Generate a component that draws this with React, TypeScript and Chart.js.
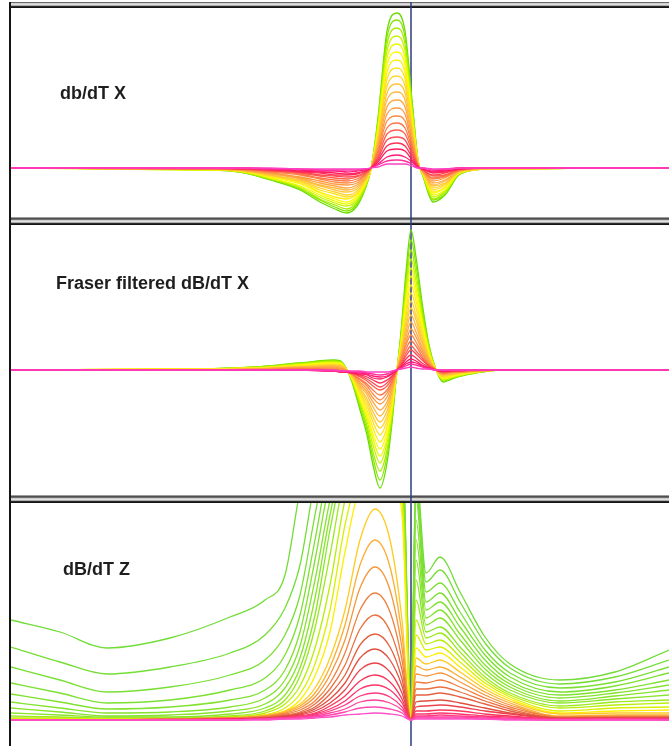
import React, { useEffect, useRef } from 'react';
import { Chart, registerables } from 'chart.js';
Chart.register(...registerables);

// ---------- shared ----------
const stationMin = -400;
const stationMax = 258;
const markerStation = 0;
const panelTitles = ['db/dT X', 'Fraser filtered dB/dT X', 'dB/dT Z'];

// ---------- panel 1 : db/dT X ----------
const dbdtXStations = [-400, -211, -171, -141, -111, -91, -76, -64, -54, -47, -40, -33, -24, -14, -6, 1, 7, 12, 22, 34, 49, 79, 258];
const dbdtXRange = [-49, 160];
const dbdtXCurves = [
  [0, -2, -4, -12, -22, -34, -41, -45, -38, -24, -1, 50, 137, 155, 137, 68, 8, -8, -34, -27, -6, -1, 0],
  [0, -2, -4, -11, -21, -32, -39, -43, -36, -23, -1, 48, 131, 148, 131, 65, 8, -8, -32, -26, -6, -1, 0],
  [0, -2, -4, -11, -20, -31, -37, -41, -34, -22, -1, 45, 124, 140, 124, 61, 7, -7, -31, -24, -5, -1, 0],
  [0, -2, -3, -10, -19, -29, -35, -38, -32, -20, -1, 43, 117, 132, 117, 58, 7, -7, -29, -23, -5, -1, 0],
  [0, -2, -3, -10, -18, -27, -33, -36, -30, -19, -1, 40, 110, 124, 110, 54, 6, -6, -27, -22, -5, -1, 0],
  [0, -1, -3, -9, -16, -25, -31, -34, -28, -18, -1, 37, 103, 116, 103, 51, 6, -6, -25, -20, -4, -1, 0],
  [0, -1, -3, -8, -15, -24, -29, -31, -26, -17, -1, 35, 96, 108, 96, 47, 6, -6, -24, -19, -4, -1, 0],
  [0, -1, -3, -8, -14, -22, -26, -29, -25, -15, -1, 32, 89, 100, 89, 44, 5, -5, -22, -17, -4, -1, 0],
  [0, -1, -2, -7, -13, -20, -24, -27, -23, -14, 0, 30, 82, 92, 82, 40, 5, -5, -20, -16, -4, -1, 0],
  [0, -1, -2, -7, -12, -18, -22, -24, -21, -13, 0, 27, 75, 84, 75, 37, 4, -4, -18, -15, -3, -1, 0],
  [0, -1, -2, -6, -11, -17, -20, -22, -19, -12, 0, 25, 68, 76, 68, 33, 4, -4, -17, -13, -3, 0, 0],
  [0, -1, -2, -5, -10, -15, -18, -20, -17, -11, 0, 22, 61, 68, 61, 30, 4, -4, -15, -12, -3, 0, 0],
  [0, -1, -2, -5, -9, -13, -16, -17, -15, -9, 0, 19, 54, 60, 54, 26, 3, -3, -13, -10, -2, 0, 0],
  [0, -1, -1, -4, -7, -11, -14, -15, -13, -8, 0, 17, 47, 52, 47, 23, 3, -3, -11, -9, -2, 0, 0],
  [0, -1, -1, -3, -6, -10, -12, -13, -11, -7, 0, 15, 40, 45, 40, 20, 2, -2, -10, -8, -2, 0, 0],
  [0, 0, -1, -3, -5, -8, -10, -11, -9, -6, 0, 12, 34, 38, 34, 17, 2, -2, -8, -7, -1, 0, 0],
  [0, 0, -1, -2, -4, -7, -8, -9, -8, -5, 0, 10, 28, 31, 28, 14, 2, -2, -7, -5, -1, 0, 0],
  [0, 0, -1, -2, -4, -5, -7, -7, -6, -4, 0, 8, 22, 25, 22, 11, 1, -1, -5, -4, -1, 0, 0],
  [0, 0, 0, -1, -3, -4, -5, -6, -5, -3, 0, 6, 17, 19, 17, 8, 1, -1, -4, -3, -1, 0, 0],
  [0, 0, 0, -1, -2, -3, -3, -4, -3, -2, 0, 4, 11, 13, 11, 6, 1, -1, -3, -2, 0, 0, 0],
  [0, 0, 0, -1, -1, -2, -2, -2, -2, -1, 0, 3, 7, 8, 7, 4, 0, 0, -2, -1, 0, 0, 0],
  [0, 0, 0, 0, -1, -1, -1, -1, -1, -1, 0, 1, 4, 4, 4, 2, 0, 0, -1, -1, 0, 0, 0],
];

// ---------- panel 2 : Fraser filtered dB/dT X ----------
const fraserStations = [-400, -211, -155, -111, -78, -70, -65, -59, -51, -44, -38, -31, -24, -19, -15, -10, -5, 0, 5, 11, 18, 24, 32, 46, 64, 89, 258];
const fraserRange = [-125, 145];
const fraserCurves = [
  [0, 1, 3, 7, 10, 9, 2, -12, -40, -65, -95, -118, -93, -53, -10, 38, 98, 140, 113, 68, 25, 3, -12, -7, -3, 0, 0],
  [0, 1, 3, 7, 9, 8, 2, -11, -37, -60, -88, -110, -86, -49, -9, 35, 91, 130, 105, 63, 23, 3, -11, -7, -3, 0, 0],
  [0, 1, 3, 6, 9, 8, 2, -10, -34, -56, -82, -101, -80, -46, -9, 33, 84, 120, 97, 58, 22, 3, -10, -6, -3, 0, 0],
  [0, 1, 2, 6, 8, 7, 2, -9, -32, -51, -75, -93, -73, -42, -8, 30, 77, 111, 89, 54, 20, 2, -9, -6, -2, 0, 0],
  [0, 1, 2, 5, 7, 7, 1, -9, -29, -47, -69, -86, -68, -39, -7, 28, 72, 102, 82, 50, 18, 2, -9, -5, -2, 0, 0],
  [0, 1, 2, 5, 7, 6, 1, -8, -27, -44, -64, -79, -62, -36, -7, 25, 66, 94, 76, 46, 17, 2, -8, -5, -2, 0, 0],
  [0, 1, 2, 4, 6, 5, 1, -7, -24, -40, -58, -72, -57, -32, -6, 23, 60, 85, 69, 41, 15, 2, -7, -4, -2, 0, 0],
  [0, 1, 2, 4, 5, 5, 1, -7, -22, -36, -52, -65, -51, -29, -6, 21, 54, 77, 62, 37, 14, 2, -7, -4, -2, 0, 0],
  [0, 0, 1, 3, 5, 4, 1, -6, -20, -32, -47, -58, -46, -26, -5, 19, 48, 69, 55, 33, 12, 1, -6, -3, -1, 0, 0],
  [0, 0, 1, 3, 4, 4, 1, -5, -18, -29, -42, -52, -41, -23, -4, 17, 43, 62, 50, 30, 11, 1, -5, -3, -1, 0, 0],
  [0, 0, 1, 3, 4, 3, 0, -5, -16, -25, -37, -46, -36, -21, -4, 15, 38, 55, 44, 27, 10, 1, -5, -3, -1, 0, 0],
  [0, 0, 1, 2, 3, 2, 0, -4, -14, -22, -32, -40, -32, -18, -3, 13, 33, 48, 38, 23, 9, 1, -4, -2, -1, 0, 0],
  [0, 0, 1, 2, 2, 1, -1, -4, -12, -19, -28, -34, -27, -15, -3, 11, 28, 41, 33, 20, 7, 1, -3, -2, -1, 0, 0],
  [0, 0, 0, 1, 1, 0, -1, -4, -10, -16, -24, -30, -23, -13, -3, 10, 25, 35, 28, 17, 6, 1, -3, -2, -1, 0, 0],
  [0, 0, 0, 1, 0, -1, -2, -4, -9, -14, -20, -25, -20, -11, -2, 8, 21, 29, 24, 14, 5, 1, -3, -1, 0, 0, 0],
  [0, 0, 0, 0, 0, -1, -2, -3, -7, -11, -16, -20, -16, -9, -2, 6, 17, 24, 19, 12, 4, 1, -2, -1, 0, 0, 0],
  [0, 0, 0, 0, -1, -2, -2, -3, -6, -9, -13, -17, -13, -7, -1, 5, 14, 20, 16, 10, 4, 0, -2, -1, 0, 0, 0],
  [0, 0, 0, 0, -1, -2, -2, -3, -5, -7, -10, -13, -10, -6, -1, 4, 11, 15, 12, 7, 3, 0, -1, -1, 0, 0, 0],
  [0, 0, 0, 0, -1, -2, -2, -3, -4, -5, -8, -9, -7, -4, -1, 3, 8, 11, 9, 5, 2, 0, -1, 0, 0, 0, 0],
  [0, 0, 0, 0, -1, -1, -2, -2, -3, -4, -6, -7, -6, -3, 0, 2, 6, 8, 7, 4, 2, 0, -1, 0, 0, 0, 0],
  [0, 0, 0, 0, -1, -1, -1, -2, -2, -3, -4, -5, -4, -2, 0, 2, 4, 6, 5, 3, 1, 0, 0, 0, 0, 0, 0],
  [0, 0, 0, 0, 0, -1, -1, -1, -1, -2, -2, -2, -2, -1, 0, 1, 2, 3, 2, 1, 1, 0, 0, 0, 0, 0, 0],
];

// ---------- panel 3 : dB/dT Z ----------
const dbdtZStations = [-400, -351, -304, -241, -181, -146, -126, -111, -96, -81, -66, -51, -36, -21, -9, 0, 5, 15, 29, 49, 74, 99, 149, 204, 258];
const dbdtZRange = [-26, 217];
const dbdtZCurves = [
  [100, 88, 72, 82, 103, 120, 145, 230, 300, 340, 360, 370, 370, 350, 300, 18, 250, 147, 163, 128, 83, 56, 40, 48, 70],
  [73, 58, 46, 53, 67, 85, 112, 155, 240, 300, 330, 345, 345, 330, 290, 15, 240, 138, 150, 118, 77, 52, 36, 43, 60],
  [53, 40, 28, 33, 45, 60, 85, 125, 205, 280, 320, 335, 335, 320, 280, 12, 230, 128, 137, 108, 70, 47, 32, 38, 53],
  [37, 27, 17, 20, 30, 42, 65, 105, 180, 260, 305, 325, 325, 310, 270, 10, 220, 118, 127, 100, 65, 43, 28, 34, 47],
  [26, 18, 11, 13, 20, 30, 50, 88, 160, 240, 290, 315, 315, 300, 260, 8, 200, 110, 118, 93, 60, 39, 25, 30, 40],
  [18, 12, 7, 8, 13, 22, 40, 74, 140, 220, 280, 305, 305, 290, 250, 6, 180, 102, 110, 86, 55, 36, 22, 27, 35],
  [12, 8, 4, 5, 9, 16, 32, 62, 122, 205, 270, 295, 295, 280, 240, 5, 160, 95, 102, 80, 51, 33, 19, 24, 30],
  [7, 5, 3, 3, 6, 12, 25, 52, 105, 190, 260, 285, 285, 270, 235, 4, 140, 88, 93, 73, 47, 30, 17, 21, 25],
  [4, 3, 2, 2, 4, 9, 20, 44, 92, 165, 245, 280, 280, 265, 230, 3, 120, 82, 87, 68, 43, 27, 14, 18, 20],
  [2, 2, 1, 1, 3, 7, 16, 34, 72, 135, 220, 265, 275, 260, 225, 2, 100, 76, 80, 63, 40, 25, 12, 15, 17],
  [1, 1, 1, 1, 2, 5, 12, 26, 56, 110, 195, 250, 262, 255, 220, 1, 85, 70, 73, 58, 37, 23, 9, 12, 13],
  [0, 0, 0, 1, 2, 4, 9, 20, 44, 88, 168, 235, 255, 245, 205, 1, 72, 63, 67, 53, 34, 21, 7, 9, 10],
  [0, 0, 0, 1, 2, 5, 9, 16, 32, 62, 110, 180, 211, 180, 100, 0, 62, 56, 60, 48, 31, 19, 6, 7, 7],
  [0, 0, 0, 1, 2, 4, 8, 14, 27, 53, 95, 155, 180, 153, 85, 0, 54, 50, 53, 43, 28, 17, 4, 5, 5],
  [0, 0, 0, 1, 2, 4, 7, 12, 23, 45, 80, 132, 153, 130, 72, 0, 46, 44, 47, 38, 25, 15, 3, 4, 4],
  [0, 0, 0, 1, 2, 3, 6, 10, 19, 37, 67, 110, 127, 108, 60, 0, 38, 37, 40, 33, 22, 13, 3, 3, 3],
  [0, 0, 0, 1, 1, 3, 5, 8, 16, 31, 55, 91, 105, 89, 50, 0, 31, 31, 33, 28, 19, 11, 2, 3, 3],
  [0, 0, 0, 0, 1, 2, 4, 7, 13, 26, 45, 75, 86, 73, 41, 0, 25, 25, 27, 23, 16, 9, 2, 2, 2],
  [0, 0, 0, 0, 1, 2, 4, 6, 11, 21, 37, 62, 71, 60, 34, 0, 18, 19, 20, 17, 12, 7, 2, 2, 2],
  [0, 0, 0, 0, 1, 2, 3, 5, 9, 17, 30, 50, 57, 48, 27, 0, 13, 14, 15, 13, 9, 6, 1, 2, 2],
  [0, 0, 0, 0, 1, 1, 3, 4, 7, 14, 24, 39, 45, 38, 21, 0, 9, 9, 10, 9, 6, 4, 1, 1, 1],
  [0, 0, 0, 0, 1, 1, 2, 3, 6, 11, 19, 31, 35, 30, 17, 0, 6, 6, 7, 6, 4, 3, 1, 1, 1],
  [0, 0, 0, 0, 0, 1, 2, 3, 5, 9, 15, 24, 27, 23, 13, 0, 4, 4, 5, 4, 3, 2, 1, 1, 1],
  [0, 0, 0, 0, 0, 1, 2, 3, 4, 7, 11, 18, 20, 17, 10, 0, 3, 3, 3, 3, 2, 1, 0, 1, 0],
  [0, 0, 0, 0, 0, 1, 1, 2, 3, 5, 8, 12, 13, 11, 7, 0, 2, 2, 2, 2, 1, 1, 0, 0, 0],
  [0, 0, 0, 0, 0, 0, 1, 1, 2, 3, 5, 6, 7, 6, 4, 0, 1, 1, 1, 1, 1, 0, 0, 0, 0],
];

// ---------- styling ----------
type Stop = [number, string];
const xStops: Stop[] = [
  [0, '#66dd00'], [0.1, '#aaee00'], [0.22, '#ffff00'], [0.45, '#ffc040'],
  [0.6, '#ff9040'], [0.75, '#ff5050'], [0.88, '#ff1060'], [1, '#ff40c0'],
];
const zStops: Stop[] = [
  [0, '#72dc38'], [0.3, '#8ce628'], [0.38, '#c8f000'], [0.44, '#ffee00'],
  [0.5, '#ffb830'], [0.6, '#f08040'], [0.72, '#e05040'], [0.82, '#ff3060'], [1, '#ff50c8'],
];
const grooveRows = ['#9c9c9c', '#505050', '#6c6c6c', '#cecece', '#e0e0e0', '#acacac', '#2a2a2a', '#151515'];

function hexRgb(h: string): number[] {
  return [parseInt(h.slice(1, 3), 16), parseInt(h.slice(3, 5), 16), parseInt(h.slice(5, 7), 16)];
}
function ramp(stops: Stop[], t: number): string {
  for (let i = 0; i < stops.length - 1; i++) {
    const [t0, c0] = stops[i];
    const [t1, c1] = stops[i + 1];
    if (t <= t1) {
      const f = (t - t0) / (t1 - t0);
      const a = hexRgb(c0), b = hexRgb(c1);
      const c = a.map((v, j) => Math.round(v + (b[j] - v) * f));
      return `rgb(${c[0]},${c[1]},${c[2]})`;
    }
  }
  return stops[stops.length - 1][1];
}

function framePlugin(grooveSkip: number) {
  return {
    id: 'frame',
    beforeDatasetsDraw(chart: any) {
      const ctx = chart.ctx as CanvasRenderingContext2D;
      const w = chart.width, h = chart.height;
      ctx.save();
      for (let i = grooveSkip; i < grooveRows.length; i++) {
        ctx.fillStyle = grooveRows[i];
        ctx.fillRect(9, i, w - 9, 1);
      }
      ctx.fillStyle = '#141414';
      ctx.fillRect(9, grooveSkip, 2, h - grooveSkip);
      const x = chart.scales.x.getPixelForValue(markerStation);
      ctx.strokeStyle = '#2f3d7c';
      ctx.lineWidth = 1.5;
      ctx.beginPath();
      ctx.moveTo(x, grooveSkip);
      ctx.lineTo(x, h);
      ctx.stroke();
      ctx.restore();
    },
  };
}

interface PanelProps {
  top: number;
  height: number;
  stations: number[];
  curves: number[][];
  range: number[];
  stops: Stop[];
  grooveSkip: number;
  title: string;
  titleLeft: number;
  titleTop: number;
}

function Panel(p: PanelProps) {
  const ref = useRef<HTMLCanvasElement | null>(null);
  useEffect(() => {
    if (!ref.current) return;
    const n = p.curves.length;
    const datasets = p.curves.map((c, k) => ({
      data: p.stations.map((x, i) => ({ x, y: c[i] })),
      borderColor: ramp(p.stops, k / (n - 1)),
      borderWidth: 1.3,
      pointRadius: 0,
      fill: false,
      cubicInterpolationMode: 'monotone' as const,
      clip: 0,
      order: n - 1 - k,
    }));
    const chart = new Chart(ref.current, {
      type: 'line',
      data: { datasets },
      options: {
        animation: false,
        responsive: false,
        events: [],
        layout: { padding: { left: 11, right: 0, top: 8, bottom: 0 } },
        plugins: { legend: { display: false }, tooltip: { enabled: false }, title: { display: false } },
        scales: {
          x: { type: 'linear', min: stationMin, max: stationMax, display: false },
          y: { type: 'linear', min: p.range[0], max: p.range[1], display: false },
        },
      },
      plugins: [framePlugin(p.grooveSkip)],
    } as any);
    return () => chart.destroy();
  }, []);
  return (
    <div style={{ position: 'absolute', left: 0, top: p.top, width: 669, height: p.height }}>
      <canvas ref={ref} width={669} height={p.height} style={{ display: 'block', width: 669, height: p.height }} />
      <div
        style={{
          position: 'absolute',
          left: p.titleLeft,
          top: p.titleTop,
          font: 'bold 18px "Liberation Sans", Arial, sans-serif',
          lineHeight: '18px',
          color: '#1e1e1e',
          whiteSpace: 'nowrap',
        }}
      >
        {p.title}
      </div>
    </div>
  );
}

export default function App() {
  return (
    <div style={{ position: 'absolute', left: 0, top: 0, width: 669, height: 746, background: '#fff', overflow: 'hidden' }}>
      <Panel top={0} height={217} stations={dbdtXStations} curves={dbdtXCurves} range={dbdtXRange}
        stops={xStops} grooveSkip={2} title={panelTitles[0]} titleLeft={60} titleTop={84} />
      <Panel top={217} height={278} stations={fraserStations} curves={fraserCurves} range={fraserRange}
        stops={xStops} grooveSkip={0} title={panelTitles[1]} titleLeft={56} titleTop={57} />
      <Panel top={495} height={251} stations={dbdtZStations} curves={dbdtZCurves} range={dbdtZRange}
        stops={zStops} grooveSkip={0} title={panelTitles[2]} titleLeft={63} titleTop={65} />
    </div>
  );
}
